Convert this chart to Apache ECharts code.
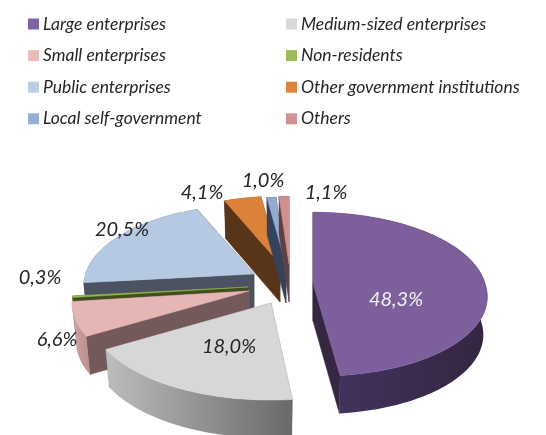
<!DOCTYPE html>
<html><head><meta charset="utf-8">
<style>html,body{margin:0;padding:0;background:#fff}#c{width:546px;height:435px}</style>
<script src="https://cdn.jsdelivr.net/npm/echarts@6/dist/echarts.min.js"></script>
</head><body><div id="c"></div>
<script>
const categories = ['Large enterprises','Medium-sized enterprises','Small enterprises','Non-residents','Public enterprises','Other government institutions','Local self-government','Others'];
const values = [48.3,18.0,6.6,0.3,20.5,4.1,1.0,1.1];
const topColors = ['#7d5f9c','#d7d7d7','#e5b6b4','#9bbb59','#b5cae2','#db8238','#92abd3','#d09090'];
const legendColors = ['#8064a2','#d9d9db','#e9bcb9','#9bbb59','#b9cde5','#e08238','#95aed4','#d09292'];
const edgeColors = ['#352741','#8a8a8a','#74595a','#414f1f','#4a535f','#583419','#34435c','#5f4140'];
const rimColors = [['#433460','#342640'],['#bdbdbd','#696969'],['#cfa5a3','#bd9391'],['#5f6e2e','#5f6e2e'],['#4a535f','#4a535f'],['#583419','#583419'],['#34435c','#34435c'],['#5f4140','#5f4140']];
const labelColors = ['#f2eff6','#262626','#262626','#262626','#262626','#262626','#262626','#262626'];
// exploded slice apex offsets from the pie centre (px)
const explode = [[43,5],[1,25],[-21,13],[-22,9],[-16,-4],[10,-14],[16,-13],[19,-14]];
// label anchor offsets from the pie centre (px)
const labelAt = [[126,22],[-41,69],[-213,62],[-230,0],[-148,-48],[-68,-85],[-7,-97],[56,-85]];
const drawOrder = [4,3,2,1,5,6,7,0];

const PIE = {cx:270, cy:278, vpx:272, R:170, Ry:79.5, k:0.136, depth:38, shrink:0.977, near:0.0022};
const total = values.reduce((a,b)=>a+b,0);
const starts = []; values.reduce((acc,v,i)=>{starts[i]=acc; return acc+v;},0);

function project(cx,cy,theta,scale){
  const u=Math.sin(theta), v=Math.cos(theta), s=1/(1+PIE.k*v);
  return [cx+PIE.R*scale*u*s+(cx-PIE.vpx)*Math.max(s-1,0), cy-PIE.Ry*scale*v*s];
}
function lower(p,cx){ return [cx+(p[0]-cx)*PIE.shrink, p[1]+PIE.depth]; }

function sliceRender(i){
  return function(params,api){
    const val = api.value(0);
    const a0 = starts[i]/total*2*Math.PI, a1 = (starts[i]+val)/total*2*Math.PI;
    const cx = PIE.cx+explode[i][0], cy = PIE.cy+explode[i][1];
    const scale = 1+PIE.near*explode[i][1];
    const n = Math.max(3,Math.ceil((a1-a0)/0.02));
    const rim=[]; for(let j=0;j<=n;j++) rim.push(project(cx,cy,a0+(a1-a0)*j/n,scale));
    const rimLow = rim.map(p=>lower(p,cx));
    const apex=[cx,cy], apexLow=lower(apex,cx);
    const z = drawOrder.indexOf(i)*10;
    const poly=(pts,fill,dz)=>({type:'polygon',z2:z+dz,shape:{points:pts},silent:true,
      style:{fill:fill,stroke:typeof fill==='string'?fill:null,lineWidth:typeof fill==='string'?0.5:0}});
    const xs=rim.map(p=>p[0]);
    const grad={type:'linear',global:true,x:Math.min(...xs),y:0,x2:Math.max(...xs),y2:0,
      colorStops:[{offset:0,color:rimColors[i][0]},{offset:1,color:rimColors[i][1]}]};
    const kids=[
      poly([apex,rim[n],rimLow[n],apexLow],edgeColors[i],1),
      poly([apex,rim[0],rimLow[0],apexLow],edgeColors[i],1),
      poly(rim.concat(rimLow.slice().reverse()),grad,2),
      poly([apex].concat(rim),topColors[i],3),
      {type:'text',z2:200,silent:true,style:{
        x:PIE.cx+labelAt[i][0],y:PIE.cy+labelAt[i][1],
        text:val.toFixed(1).replace('.',',')+'%',
        fill:labelColors[i],font:'italic 20px Lato',align:'center',verticalAlign:'middle'}}
    ];
    return {type:'group',children:kids};
  };
}

const legendBase={orient:'vertical',top:14,itemWidth:11,itemHeight:11,itemGap:11.6,icon:'rect',
  selectedMode:false,padding:0,textStyle:{fontFamily:'Lato',fontStyle:'italic',fontSize:17.5,color:'#262626',lineHeight:20,padding:[0,0,0,-1]}};
const chart=echarts.init(document.getElementById('c'),null,{renderer:'canvas'});
chart.setOption({
  backgroundColor:'#fff',animation:false,
  legend:[
    Object.assign({},legendBase,{left:28,data:categories.filter((_,i)=>i%2===0)}),
    Object.assign({},legendBase,{left:286,data:categories.filter((_,i)=>i%2===1)})
  ],
  series:categories.map((name,i)=>({
    type:'custom',name:name,coordinateSystem:'none',silent:true,
    itemStyle:{color:legendColors[i]},
    data:[[values[i]]],renderItem:sliceRender(i)
  }))
});
</script></body></html>
